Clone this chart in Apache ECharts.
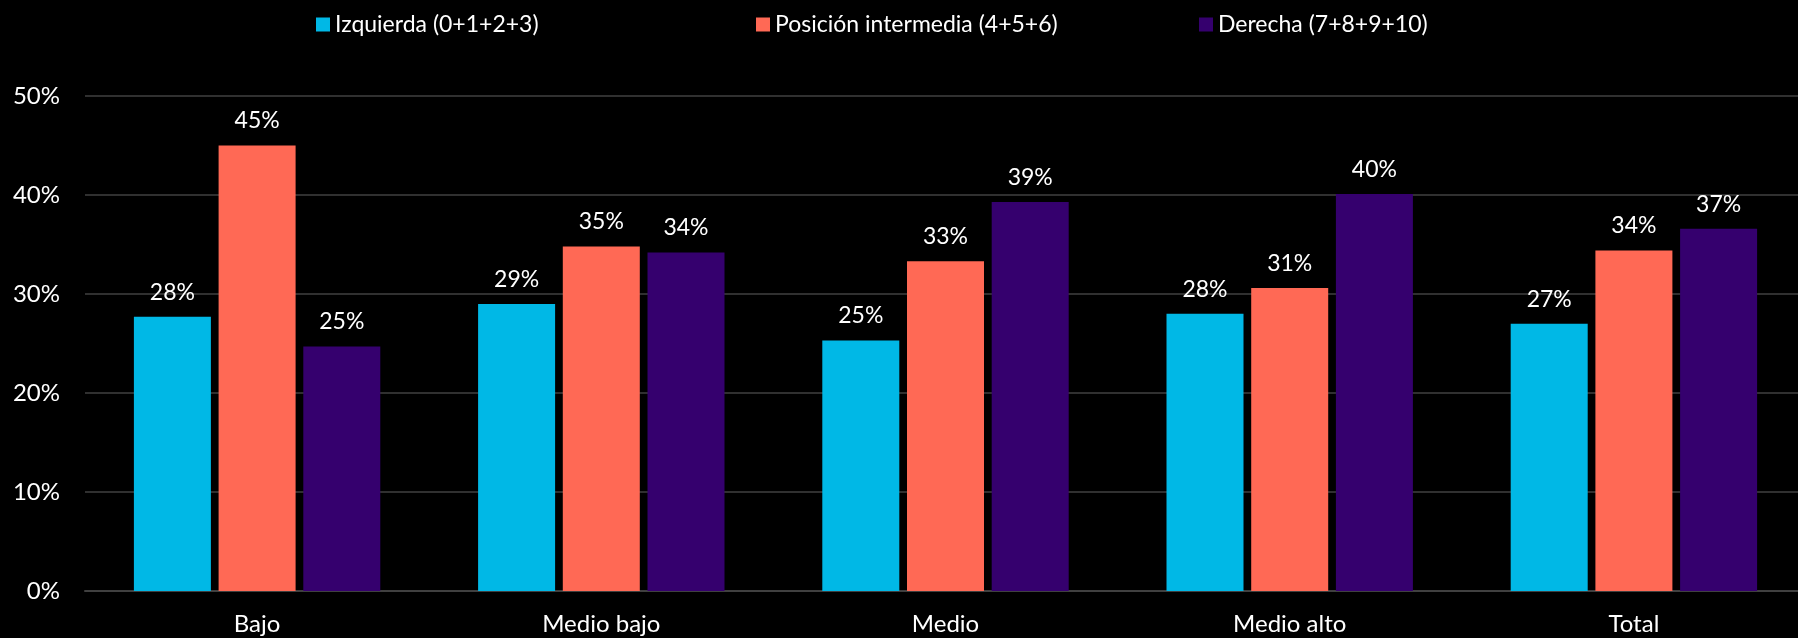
<!DOCTYPE html>
<html>
<head>
<meta charset="utf-8">
<script src="https://cdn.jsdelivr.net/npm/echarts@6/dist/echarts.min.js"></script>
<style>
  html, body { margin: 0; padding: 0; background: #000; }
  #main { width: 1798px; height: 638px; }
</style>
</head>
<body>
<div id="main"></div>
<script type="text/javascript">
    // datos
    var categorias = ['Bajo', 'Medio bajo', 'Medio', 'Medio alto', 'Total'];
    var nombres = ['Izquierda (0+1+2+3)', 'Posición intermedia (4+5+6)', 'Derecha (7+8+9+10)'];
    var izquierda = [27.7, 29.0, 25.3, 28.0, 27.0];
    var intermedia = [45.0, 34.8, 33.3, 30.6, 34.4];
    var derecha = [24.7, 34.2, 39.3, 40.1, 36.6];
    var ticksY = [0, 10, 20, 30, 40, 50];

    var colores = ['#00B8E6', '#FF6955', '#35006E'];
    var fuente = 'Lato';
    var legendX = [311, 751, 1194];

    var myChart = echarts.init(document.getElementById('main'));

    function serie(nombre, datos, color) {
        return {
            name: nombre,
            type: 'bar',
            data: datos,
            barWidth: 77,
            barGap: '10%',
            itemStyle: { color: color },
            label: {
                show: true,
                position: 'top',
                distance: 13,
                color: '#fff',
                fontFamily: fuente,
                fontSize: 23,
                formatter: function (p) { return Math.round(p.value) + '%'; }
            }
        };
    }

    // una leyenda por serie para fijar la posicion de cada una
    var leyendas = nombres.map(function (n, i) {
        return {
            top: 8,
            left: legendX[i],
            itemWidth: 14,
            itemHeight: 14,
            itemGap: 6,
            icon: 'rect',
            data: [n],
            textStyle: { color: '#fff', fontFamily: fuente, fontSize: 23 }
        };
    });

    var option = {
        backgroundColor: '#000',
        animation: false,
        legend: leyendas,
        grid: { left: 85, right: -8, top: 96, bottom: 47, outerBoundsMode: 'none', containLabel: false },
        xAxis: {
            type: 'category',
            data: categorias,
            axisTick: { show: false },
            axisLine: { lineStyle: { color: '#404040', width: 2 } },
            axisLabel: { color: '#fff', fontFamily: fuente, fontSize: 24, margin: 21 }
        },
        yAxis: {
            type: 'value',
            min: ticksY[0],
            max: ticksY[ticksY.length - 1],
            interval: 10,
            axisLabel: { color: '#fff', fontFamily: fuente, fontSize: 24, margin: 25, formatter: '{value}%' },
            splitLine: { lineStyle: { color: '#404040', width: 1.5 } }
        },
        series: [
            serie(nombres[0], izquierda, colores[0]),
            serie(nombres[1], intermedia, colores[1]),
            serie(nombres[2], derecha, colores[2])
        ]
    };

    myChart.setOption(option);
</script>
</body>
</html>
